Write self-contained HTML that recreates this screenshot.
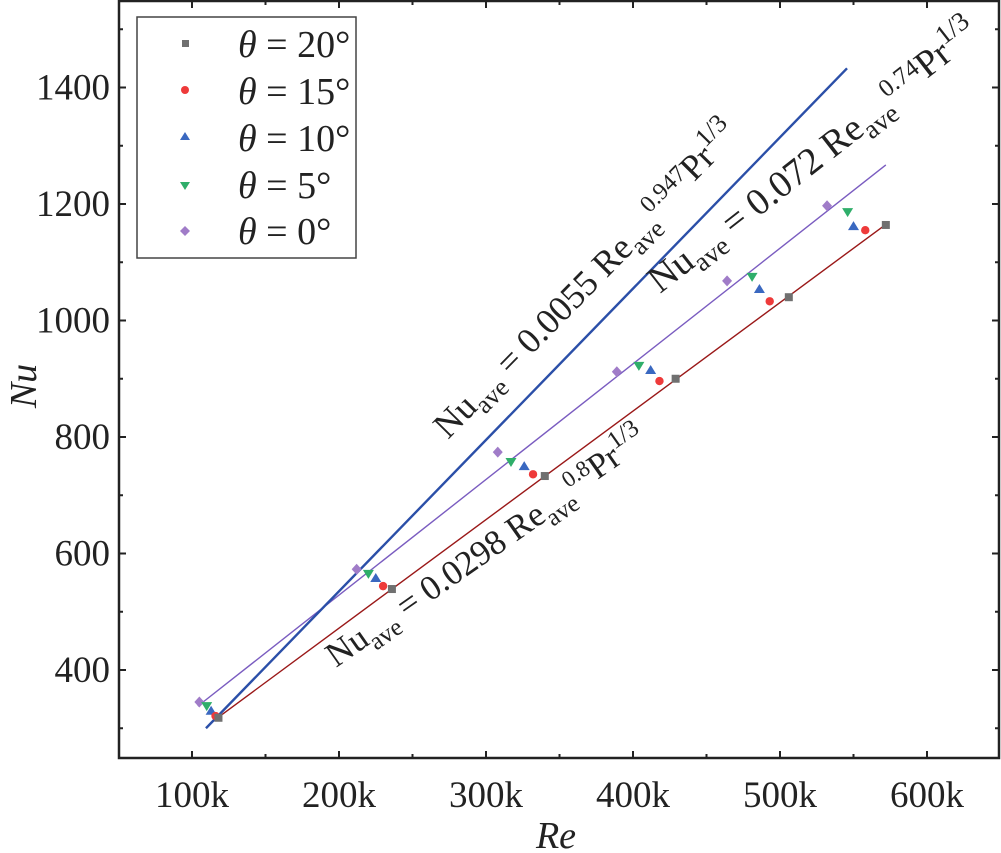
<!DOCTYPE html>
<html><head><meta charset="utf-8"><style>
html,body{margin:0;padding:0;background:#fff;}
svg{display:block;font-family:"Liberation Serif",serif;}
</style></head><body>
<svg id="chart" width="1001" height="853" viewBox="0 0 1001 853">
<g id="marks"></g>
</svg>
<script>
const xTicks=[100,200,300,400,500,600];
const xTickLabels=["100k","200k","300k","400k","500k","600k"];
const yTicks=[400,600,800,1000,1200,1400];
const yTickLabels=["400","600","800","1000","1200","1400"];
const re20=[118,236,340,429,506,572];
const nu20=[318,539,733,900,1040,1164];
const re15=[116,230,332,418,493,558];
const nu15=[321,544,736,896,1033,1155];
const re10=[113,225,326,412,486,550];
const nu10=[330,558,750,915,1054,1162];
const re5=[110,220,317,404,481,546];
const nu5=[338,565,757,922,1075,1186];
const re0=[105,212,308,389,464,532];
const nu0=[345,573,774,912,1068,1197];
const fitBlueRe=[109.5,545.6];
const fitBlueNu=[300,1433];
const fitPurpleRe=[104,572];
const fitPurpleNu=[338,1267];
const fitRedRe=[118,572];
const fitRedNu=[319,1165];

const NS="http://www.w3.org/2000/svg";
const svg=document.getElementById('chart');
const X=v=>192+(v-100)*1.47;
const Y=v=>670-(v-400)*0.5825;
function mk(tag,attrs,parent){const e=document.createElementNS(NS,tag);for(const k in attrs)e.setAttribute(k,attrs[k]);(parent||svg).appendChild(e);return e;}
const L=119,R=999,T=1,B=758;

function fit(re,nu,col,w,name){
 const l=mk('line',{x1:X(re[0]),y1:Y(nu[0]),x2:X(re[1]),y2:Y(nu[1]),stroke:col,'stroke-width':w});
 
 
}
fit(fitPurpleRe,fitPurpleNu,'#7a5cc0',1.4,'fit-line-072');
fit(fitRedRe,fitRedNu,'#9a1818',1.4,'fit-line-0298');
fit(fitBlueRe,fitBlueNu,'#2b4fa8',2.4,'fit-line-00055');

function marker(type,cx,cy,col,name){
 let e;
 if(type==='sq') e=mk('rect',{x:cx-4,y:cy-4,width:8,height:8,fill:col});
 else if(type==='ci') e=mk('circle',{cx:cx,cy:cy,r:4.2,fill:col});
 else if(type==='up') e=mk('polygon',{points:`${cx},${cy-5} ${cx+5.5},${cy+4} ${cx-5.5},${cy+4}`,fill:col});
 else if(type==='dn') e=mk('polygon',{points:`${cx-5.5},${cy-4} ${cx+5.5},${cy-4} ${cx},${cy+5}`,fill:col});
 else e=mk('polygon',{points:`${cx},${cy-5.5} ${cx+5},${cy} ${cx},${cy+5.5} ${cx-5},${cy}`,fill:col});
 
 
 return e;
}
const series=[[re0,nu0,'di','#a07cc8','theta-0'],[re5,nu5,'dn','#2fae6a','theta-5'],[re10,nu10,'up','#3a68c0','theta-10'],[re15,nu15,'ci','#ee3a3a','theta-15'],[re20,nu20,'sq','#707070','theta-20']];
series.forEach(s=>{s[0].forEach((r,i)=>{marker(s[2],X(r),Y(s[1][i]),s[3],s[4]+'-point');});});

const fr=mk('rect',{x:L,y:T,width:R-L,height:B-T,fill:'none',stroke:'#222','stroke-width':2.5});


for(let v=50;v<=650;v+=50){const x=X(v);if(x<L||x>R)continue;const len=(v%100===0)?7:4;
 mk('line',{x1:x,y1:B,x2:x,y2:B-len,stroke:'#222','stroke-width':2});
 mk('line',{x1:x,y1:T,x2:x,y2:T+len,stroke:'#222','stroke-width':2});}
for(let v=300;v<=1500;v+=100){const y=Y(v);if(y<T||y>B)continue;const len=(v%200===0)?7:4;
 mk('line',{x1:L,y1:y,x2:L+len,y2:y,stroke:'#222','stroke-width':2});
 mk('line',{x1:R,y1:y,x2:R-len,y2:y,stroke:'#222','stroke-width':2});}
xTicks.forEach((v,i)=>{const t=mk('text',{x:X(v),y:807,'text-anchor':'middle','font-size':37,fill:'#222'});t.textContent=xTickLabels[i];
 
 });
yTicks.forEach((v,i)=>{const t=mk('text',{x:110,y:Y(v)+12,'text-anchor':'end','font-size':37,fill:'#222'});t.textContent=yTickLabels[i];
 
 });
</script>
<svg style="position:absolute;left:0;top:0" width="1001" height="853">
<text x="556" y="848" text-anchor="middle" font-size="38" font-style="italic" fill="#222" font-family="'Liberation Serif',serif">Re</text>
<text transform="translate(36,386) rotate(-90)" text-anchor="middle" font-size="38" font-style="italic" fill="#222" font-family="'Liberation Serif',serif">Nu</text>
<g font-family="'Liberation Serif',serif" font-size="38" fill="#222">
<rect x="137" y="17" width="219" height="241" fill="#fff" stroke="#444" stroke-width="1.5"/>
<rect x="182" y="40" width="7" height="7" fill="#707070"/>
<text x="238" y="57"><tspan font-style="italic">θ</tspan> = 20°</text>
<circle cx="185" cy="90" r="4" fill="#ee3a3a"/>
<text x="238" y="104"><tspan font-style="italic">θ</tspan> = 15°</text>
<polygon points="185,132 190,140 180,140" fill="#3a68c0"/>
<text x="238" y="151"><tspan font-style="italic">θ</tspan> = 10°</text>
<polygon points="180,182 190,182 185,190" fill="#2fae6a"/>
<text x="238" y="198"><tspan font-style="italic">θ</tspan> = 5°</text>
<polygon points="185,226 190,231 185,236 180,231" fill="#a07cc8"/>
<text x="238" y="244"><tspan font-style="italic">θ</tspan> = 0°</text>
</g>
<g font-family="'Liberation Serif',serif" fill="#222">
<text transform="translate(448,440) rotate(-45.5)" font-size="36">Nu<tspan font-size="26" dy="9">ave</tspan><tspan dy="-9"> = 0.0055 Re</tspan><tspan font-size="26" dy="9">ave</tspan><tspan font-size="24" dy="-24">0.947</tspan><tspan dy="10">Pr</tspan><tspan font-size="26" dy="-16">1/3</tspan></text>
<text transform="translate(660,294) rotate(-38)" font-size="38">Nu<tspan font-size="27" dy="9">ave</tspan><tspan dy="-9"> = 0.072 Re</tspan><tspan font-size="27" dy="9">ave</tspan><tspan font-size="25" dy="-24">0.74</tspan><tspan dy="10">Pr</tspan><tspan font-size="27" dy="-16">1/3</tspan></text>
<text transform="translate(336,668) rotate(-35)" font-size="35">Nu<tspan font-size="25" dy="9">ave</tspan><tspan dy="-9"> = 0.0298 Re</tspan><tspan font-size="25" dy="9">ave</tspan><tspan font-size="23" dy="-23">0.8</tspan><tspan dy="10">Pr</tspan><tspan font-size="25" dy="-15">1/3</tspan></text>
</g>
</svg>
</body></html>
